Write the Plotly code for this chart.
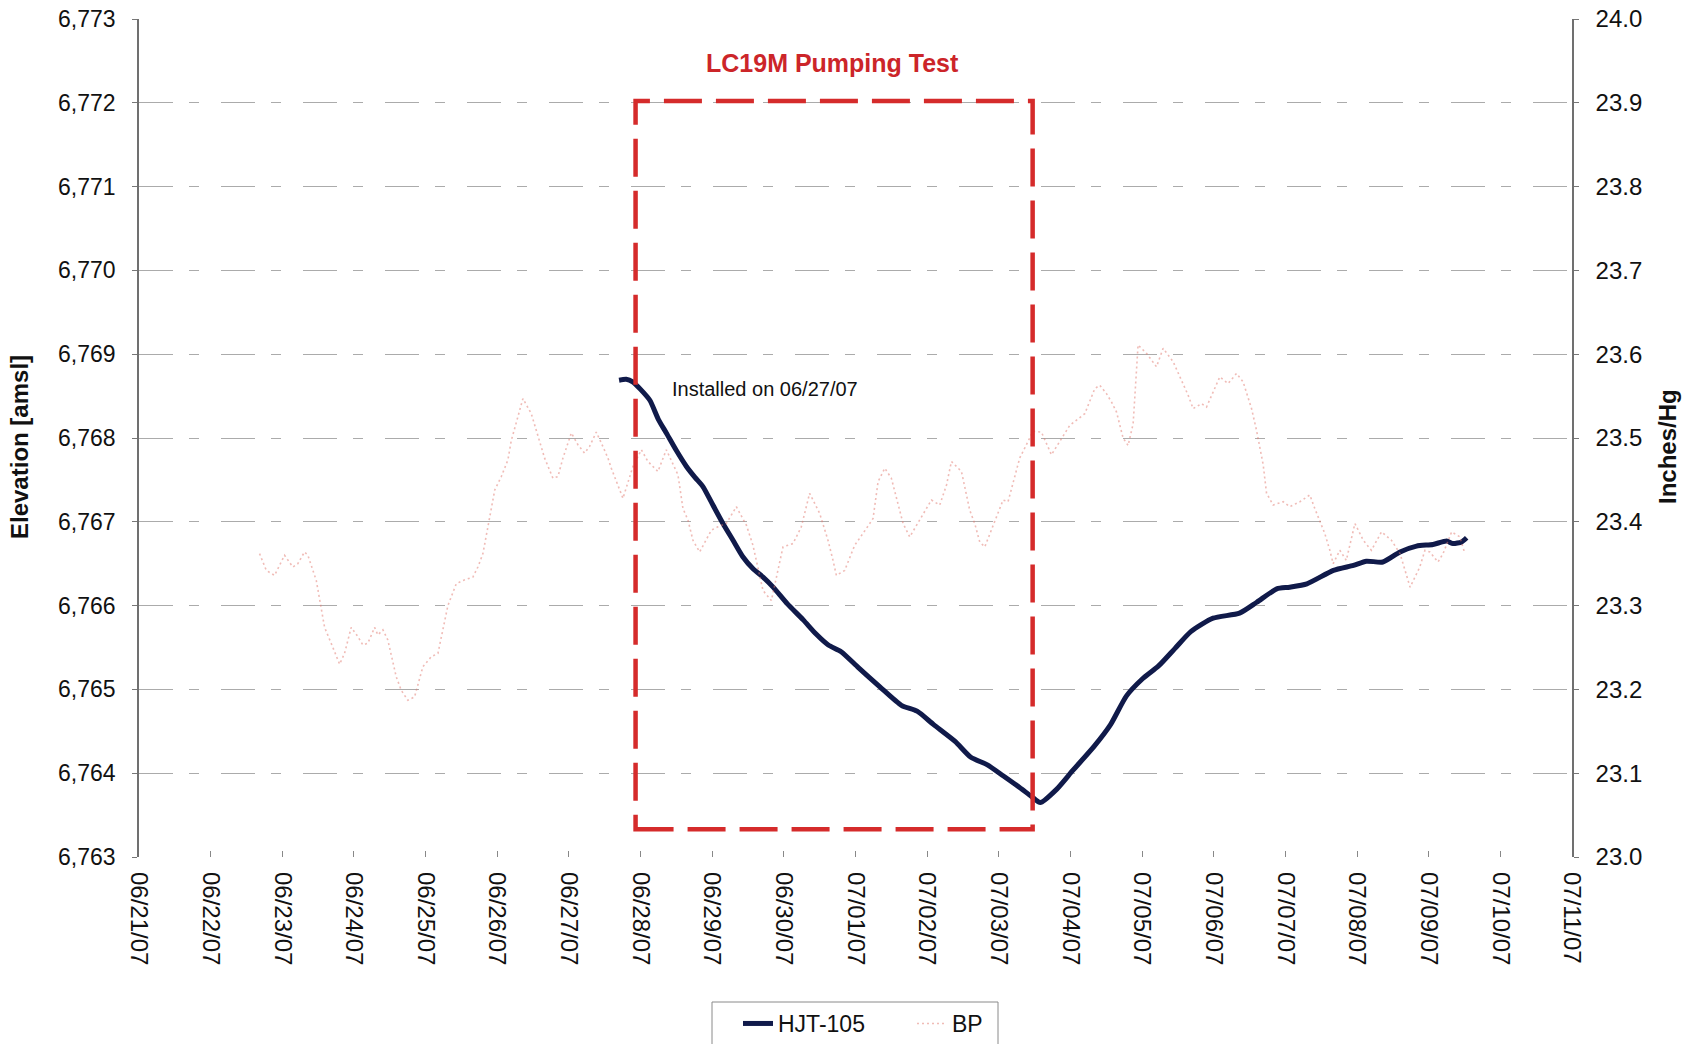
import plotly.graph_objects as go

# HJT-105 transducer record (water-level elevation, ft amsl)
hjt_time = [
    "2007-06-27 16:48", "2007-06-27 19:12", "2007-06-27 21:22", "2007-06-28 00:00",
    "2007-06-28 03:07", "2007-06-28 06:00", "2007-06-28 08:38", "2007-06-28 12:00",
    "2007-06-28 15:22", "2007-06-28 18:14", "2007-06-28 20:53", "2007-06-29 00:14",
    "2007-06-29 03:36", "2007-06-29 06:58", "2007-06-29 10:19", "2007-06-29 13:41",
    "2007-06-29 17:02", "2007-06-29 20:24", "2007-06-30 01:12", "2007-06-30 06:29",
    "2007-06-30 10:48", "2007-06-30 14:53", "2007-06-30 19:12", "2007-07-01 00:58",
    "2007-07-01 08:10", "2007-07-01 15:22", "2007-07-01 20:38", "2007-07-02 02:10",
    "2007-07-02 09:22", "2007-07-02 14:38", "2007-07-02 20:10", "2007-07-03 01:26",
    "2007-07-03 06:58", "2007-07-03 11:02", "2007-07-03 13:55", "2007-07-03 19:26",
    "2007-07-04 00:43", "2007-07-04 07:55", "2007-07-04 13:26", "2007-07-04 18:43",
    "2007-07-05 00:14", "2007-07-05 05:31", "2007-07-05 11:02", "2007-07-05 16:19",
    "2007-07-05 23:46", "2007-07-06 08:38", "2007-07-06 14:24", "2007-07-06 21:07",
    "2007-07-07 01:26", "2007-07-07 07:12", "2007-07-07 16:05", "2007-07-07 22:48",
    "2007-07-08 03:07", "2007-07-08 08:38", "2007-07-08 14:24", "2007-07-08 19:55",
    "2007-07-09 01:26", "2007-07-09 06:00", "2007-07-09 08:10", "2007-07-09 11:02",
    "2007-07-09 12:43",
]
hjt_elev = [
    6768.69, 6768.70, 6768.67, 6768.58,
    6768.45, 6768.22, 6768.06, 6767.85,
    6767.66, 6767.53, 6767.42, 6767.20,
    6766.98, 6766.78, 6766.58, 6766.44,
    6766.34, 6766.22, 6766.02, 6765.83,
    6765.66, 6765.53, 6765.45, 6765.26,
    6765.03, 6764.81, 6764.74, 6764.58,
    6764.38, 6764.19, 6764.10, 6763.97,
    6763.83, 6763.72, 6763.65, 6763.81,
    6764.03, 6764.32, 6764.58, 6764.92,
    6765.13, 6765.28, 6765.49, 6765.69,
    6765.85, 6765.91, 6766.04, 6766.20,
    6766.22, 6766.26, 6766.42, 6766.48,
    6766.53, 6766.52, 6766.64, 6766.71,
    6766.73, 6766.77, 6766.74, 6766.76,
    6766.81,
]

# Barometric pressure (inches of mercury)
bp_time = [
    "2007-06-22 16:23", "2007-06-22 18:38", "2007-06-22 21:24", "2007-06-23 00:45",
    "2007-06-23 03:32", "2007-06-23 05:12", "2007-06-23 07:26", "2007-06-23 08:34",
    "2007-06-23 11:23", "2007-06-23 14:10", "2007-06-23 16:57", "2007-06-23 19:12",
    "2007-06-23 20:51", "2007-06-23 23:05", "2007-06-24 01:19", "2007-06-24 02:59",
    "2007-06-24 04:39", "2007-06-24 06:55", "2007-06-24 08:01", "2007-06-24 09:42",
    "2007-06-24 11:21", "2007-06-24 14:10", "2007-06-24 15:50", "2007-06-24 18:04",
    "2007-06-24 20:18", "2007-06-24 23:05", "2007-06-25 01:54", "2007-06-25 04:08",
    "2007-06-25 07:28", "2007-06-25 10:16", "2007-06-25 12:29", "2007-06-25 15:50",
    "2007-06-25 17:31", "2007-06-25 19:12", "2007-06-25 23:10", "2007-06-26 01:22",
    "2007-06-26 03:35", "2007-06-26 04:42", "2007-06-26 05:48", "2007-06-26 08:36",
    "2007-06-26 11:24", "2007-06-26 15:52", "2007-06-26 18:39", "2007-06-26 20:20",
    "2007-06-26 22:00", "2007-06-27 00:49", "2007-06-27 03:01", "2007-06-27 05:15",
    "2007-06-27 06:56", "2007-06-27 09:10", "2007-06-27 10:52", "2007-06-27 13:05",
    "2007-06-27 14:12", "2007-06-27 18:06", "2007-06-27 21:27", "2007-06-28 00:16",
    "2007-06-28 02:28", "2007-06-28 05:50", "2007-06-28 08:38", "2007-06-28 12:32",
    "2007-06-28 14:12", "2007-06-28 15:53", "2007-06-28 17:33", "2007-06-28 19:48",
    "2007-06-28 23:43", "2007-06-29 01:55", "2007-06-29 04:44", "2007-06-29 08:05",
    "2007-06-29 11:27", "2007-06-29 13:39", "2007-06-29 17:01", "2007-06-29 19:49",
    "2007-06-29 23:43", "2007-06-30 03:04", "2007-06-30 05:51", "2007-06-30 08:38",
    "2007-06-30 12:00", "2007-06-30 14:47", "2007-06-30 16:28", "2007-06-30 17:36",
    "2007-06-30 20:23", "2007-06-30 23:44", "2007-07-01 03:39", "2007-07-01 05:53",
    "2007-07-01 07:34", "2007-07-01 09:48", "2007-07-01 12:01", "2007-07-01 14:15",
    "2007-07-01 15:56", "2007-07-01 18:10", "2007-07-01 21:30", "2007-07-02 01:26",
    "2007-07-02 04:13", "2007-07-02 06:29", "2007-07-02 08:08", "2007-07-02 11:30",
    "2007-07-02 14:15", "2007-07-02 15:56", "2007-07-02 17:37", "2007-07-02 19:18",
    "2007-07-03 01:26", "2007-07-03 03:06", "2007-07-03 07:00", "2007-07-03 11:28",
    "2007-07-03 14:17", "2007-07-03 17:38", "2007-07-03 23:46", "2007-07-04 04:48",
    "2007-07-04 08:10", "2007-07-04 09:49", "2007-07-04 12:04", "2007-07-04 13:45",
    "2007-07-04 15:26", "2007-07-04 17:38", "2007-07-04 19:19", "2007-07-04 21:00",
    "2007-07-04 22:39", "2007-07-05 01:28", "2007-07-05 04:49", "2007-07-05 07:03",
    "2007-07-05 10:24", "2007-07-05 13:45", "2007-07-05 15:26", "2007-07-05 17:05",
    "2007-07-05 19:54", "2007-07-05 21:35", "2007-07-06 02:02", "2007-07-06 04:48",
    "2007-07-06 07:38", "2007-07-06 09:50", "2007-07-06 12:40", "2007-07-06 14:20",
    "2007-07-06 16:34", "2007-07-06 17:41", "2007-07-06 19:55", "2007-07-06 23:15",
    "2007-07-07 01:29", "2007-07-07 04:51", "2007-07-07 08:11", "2007-07-07 09:50",
    "2007-07-07 11:31", "2007-07-07 13:12", "2007-07-07 14:53", "2007-07-07 16:00",
    "2007-07-07 18:14", "2007-07-07 20:24", "2007-07-07 23:17", "2007-07-08 02:04",
    "2007-07-08 04:48", "2007-07-08 08:12", "2007-07-08 11:31", "2007-07-08 14:24",
    "2007-07-08 17:46", "2007-07-08 21:01", "2007-07-08 22:44", "2007-07-09 00:23",
    "2007-07-09 03:07", "2007-07-09 04:48", "2007-07-09 07:41", "2007-07-09 10:26",
    "2007-07-09 12:07",
]
bp_inhg = [
    23.362, 23.342, 23.336, 23.360,
    23.346, 23.350, 23.364, 23.360,
    23.330, 23.274, 23.250, 23.230,
    23.243, 23.274, 23.263, 23.253,
    23.255, 23.274, 23.265, 23.271,
    23.259, 23.215, 23.199, 23.187,
    23.191, 23.227, 23.239, 23.243,
    23.300, 23.326, 23.330, 23.334,
    23.346, 23.362, 23.438, 23.454,
    23.474, 23.497, 23.511, 23.547,
    23.529, 23.476, 23.452, 23.454,
    23.476, 23.506, 23.492, 23.482,
    23.490, 23.507, 23.494, 23.476,
    23.464, 23.428, 23.466, 23.486,
    23.472, 23.460, 23.486, 23.456,
    23.416, 23.402, 23.378, 23.364,
    23.390, 23.394, 23.398, 23.418,
    23.396, 23.372, 23.318, 23.306,
    23.370, 23.374, 23.394, 23.434,
    23.410, 23.378, 23.354, 23.336,
    23.342, 23.372, 23.392, 23.404,
    23.448, 23.464, 23.452, 23.422,
    23.398, 23.382, 23.402, 23.426,
    23.420, 23.444, 23.472, 23.460,
    23.414, 23.398, 23.376, 23.370,
    23.426, 23.424, 23.476, 23.508,
    23.507, 23.480, 23.515, 23.529,
    23.559, 23.563, 23.553, 23.543,
    23.531, 23.500, 23.491, 23.517,
    23.611, 23.601, 23.585, 23.607,
    23.591, 23.565, 23.551, 23.535,
    23.541, 23.537, 23.573, 23.565,
    23.577, 23.567, 23.535, 23.509,
    23.468, 23.434, 23.420, 23.424,
    23.418, 23.424, 23.432, 23.416,
    23.402, 23.386, 23.366, 23.350,
    23.366, 23.354, 23.398, 23.378,
    23.366, 23.388, 23.378, 23.362,
    23.322, 23.346, 23.366, 23.364,
    23.352, 23.362, 23.388, 23.382,
    23.362,
]

# Pumping-test window and annotations
test_start = "2007-06-27 22:20"
test_end = "2007-07-03 11:20"
test_box_top = 6772.02
test_box_bottom = 6763.33
test_label = "LC19M Pumping Test"
test_label_y = 6772.47
install_note = "Installed on 06/27/07"
install_note_x = "2007-06-28 10:00"
install_note_y = 6768.58

x_range = ["2007-06-21", "2007-07-11"]
elev_range = [6763, 6773]
bp_range = [23.0, 24.0]

FONT = "Arial, 'Liberation Sans', Helvetica, sans-serif"
GRID = "#ababab"

W, H = 1683, 1044
L, R, T, B = 139, 111, 19, 187
PW, PH = W - L - R, H - T - B


def px_x(px):
    """Page pixel column -> paper x."""
    return (px - L) / PW


def px_y(py):
    """Page pixel row -> paper y."""
    return (H - B - py) / PH


fig = go.Figure()

fig.add_trace(go.Scatter(
    x=bp_time, y=bp_inhg, name="BP", yaxis="y2", mode="lines",
    line=dict(color="rgba(226,120,110,0.5)", width=1.6, dash="2px,3px"),
))
fig.add_trace(go.Scatter(
    x=hjt_time, y=hjt_elev, name="HJT-105", yaxis="y", mode="lines",
    line=dict(color="#101a4a", width=5, shape="spline", smoothing=0.6),
))

# pumping-test window
fig.add_shape(
    type="rect", xref="x", yref="y",
    x0=test_start, x1=test_end, y0=test_box_bottom, y1=test_box_top,
    line=dict(color="#d52b2b", width=4.5, dash="38px,14px"),
    fillcolor="rgba(0,0,0,0)", layer="above",
)

# legend frame
fig.add_shape(
    type="rect", xref="paper", yref="paper",
    x0=px_x(712), x1=px_x(998), y0=px_y(1060), y1=px_y(1002),
    line=dict(color="#8a8a8a", width=1), fillcolor="white", layer="below",
)

fig.add_annotation(
    x=0.484, y=test_label_y, xref="paper", yref="y",
    xanchor="center", yanchor="middle",
    text=f"<b>{test_label}</b>", showarrow=False,
    font=dict(family=FONT, size=25, color="#cc2529"),
)
fig.add_annotation(
    x=install_note_x, y=install_note_y, xref="x", yref="y",
    text=install_note, showarrow=False, xanchor="left", yanchor="middle",
    font=dict(family=FONT, size=20, color="#111"),
)

# axis titles
fig.add_annotation(
    x=px_x(20), y=px_y(447), xref="paper", yref="paper",
    xanchor="center", yanchor="middle",
    text="<b>Elevation [amsl]</b>", textangle=-90, showarrow=False,
    font=dict(family=FONT, size=24, color="#111"),
)
fig.add_annotation(
    x=px_x(1668), y=px_y(447), xref="paper", yref="paper",
    xanchor="center", yanchor="middle",
    text="<b>Inches/Hg</b>", textangle=-90, showarrow=False,
    font=dict(family=FONT, size=24, color="#111"),
)

fig.update_layout(
    width=W, height=H,
    margin=dict(l=L, r=R, t=T, b=B, autoexpand=False),
    paper_bgcolor="white", plot_bgcolor="white",
    font=dict(family=FONT, size=23, color="#111"),
    showlegend=True,
    legend=dict(
        orientation="h", x=px_x(738), xanchor="left", y=px_y(1002), yanchor="top",
        traceorder="reversed",
        bgcolor="rgba(0,0,0,0)", borderwidth=0,
        font=dict(family=FONT, size=23, color="#111"),
        entrywidth=129, entrywidthmode="pixels",
    ),
    xaxis=dict(
        type="date", range=x_range, dtick=86400000, tick0="2007-06-21",
        tickformat="%m/%d/%y", tickangle=90,
        tickfont=dict(family=FONT, size=24, color="#111"),
        ticks="inside", ticklen=6, tickcolor="#888",
        ticklabelstandoff=14,
        showgrid=False, showline=False, zeroline=False,
    ),
    yaxis=dict(
        range=elev_range, dtick=1, tickformat=",d",
        tickfont=dict(family=FONT, size=23, color="#111"),
        ticks="outside", ticklen=5, tickcolor="#777",
        ticklabelstandoff=12,
        showgrid=True, gridcolor=GRID, gridwidth=1, griddash="34px,16px,10px,22px",
        showline=True, linecolor="#707070", linewidth=1.5, zeroline=False,
    ),
    yaxis2=dict(
        range=bp_range, dtick=0.1, tickformat=".1f",
        overlaying="y", side="right",
        tickfont=dict(family=FONT, size=24, color="#111"),
        ticks="outside", ticklen=5, tickcolor="#777",
        ticklabelstandoff=12,
        showgrid=False, showline=True, linecolor="#707070", linewidth=1.5,
        zeroline=False,
    ),
)

fig.write_html("out.html")
